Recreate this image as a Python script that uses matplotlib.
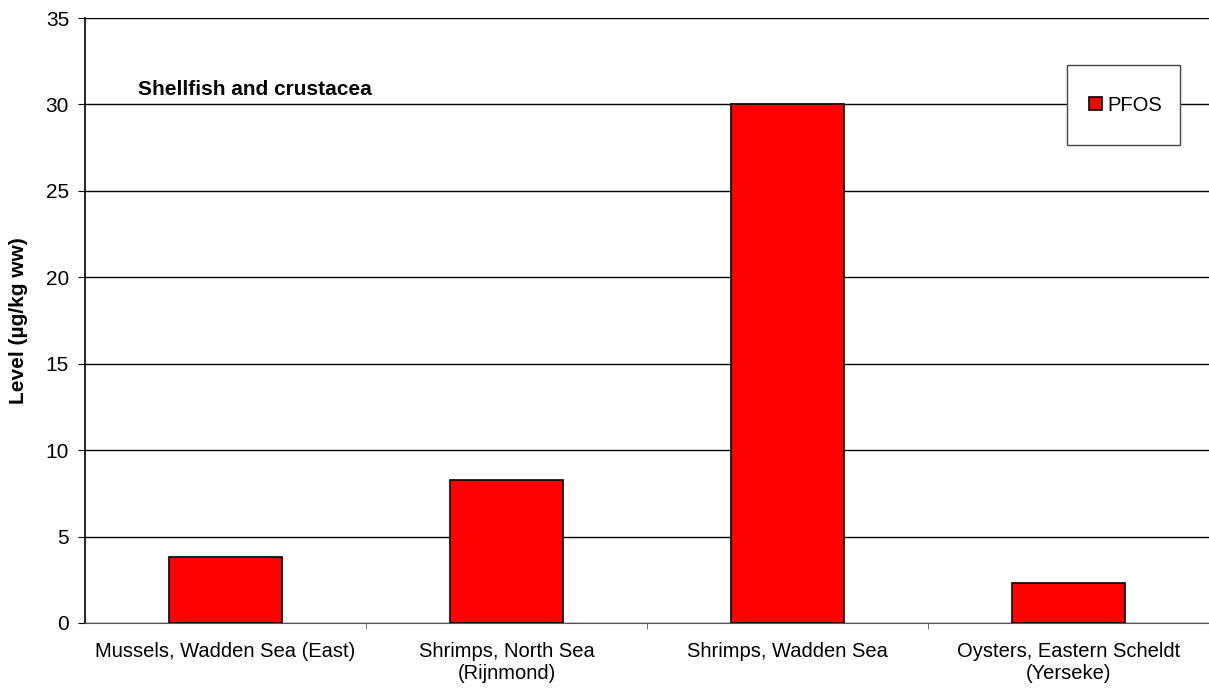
import numpy as np
import matplotlib.pyplot as plt
from matplotlib.patches import Rectangle

plt.rcParams['font.family'] = ['Liberation Sans', 'DejaVu Sans']

categories = ['Mussels, Wadden Sea (East)', 'Shrimps, North Sea\n(Rijnmond)',
              'Shrimps, Wadden Sea', 'Oysters, Eastern Scheldt\n(Yerseke)']
pfos = [3.8, 8.3, 30.0, 2.3]
yticks = [0, 5, 10, 15, 20, 25, 30, 35]

fig = plt.figure(figsize=(12.09, 6.9), dpi=100)
ax = fig.add_axes([85 / 1209, 67 / 690, 1124 / 1209, 605 / 690])

x = np.arange(len(categories))
ax.bar(x, pfos, width=0.4, color='#ff0000', edgecolor='black', linewidth=1.2,
       label='PFOS', zorder=3)

ax.set_xlim(-0.5, len(categories) - 0.5)
ax.set_ylim(0, 35)
ax.set_yticks(yticks)
ax.yaxis.grid(True, color='black', linewidth=1.0, zorder=0)
ax.set_axisbelow(True)

# category separators as minor ticks, no major tick marks on x
ax.set_xticks(x)
ax.set_xticklabels(categories, fontsize=14.5, linespacing=1.2)
ax.set_xticks(np.arange(0.5, len(categories) - 0.5, 1), minor=True)
ax.tick_params(axis='x', which='major', length=0, pad=14)
ax.tick_params(axis='x', which='minor', length=4.5, direction='out', color='#555555')
ax.tick_params(axis='y', length=5, labelsize=15, pad=6.5)

for side in ['top', 'right']:
    ax.spines[side].set_visible(False)
ax.spines['left'].set_linewidth(1.2)
ax.spines['bottom'].set_color('#555555')

ax.set_ylabel('Level (µg/kg ww)', fontsize=15, fontweight='bold', labelpad=13)

ax.text(0.047, 0.881, 'Shellfish and crustacea', transform=ax.transAxes,
        fontsize=15, fontweight='bold', va='center', ha='left')

# legend box
box = Rectangle((0.874, 0.79), 0.1005, 0.132, transform=ax.transAxes,
                facecolor='white', edgecolor='#444444', linewidth=1.0, zorder=5)
ax.add_patch(box)
leg = ax.legend(loc='center', bbox_to_anchor=(0.926, 0.856), frameon=False,
                fontsize=14.5, handlelength=0.65, handleheight=0.65,
                handletextpad=0.25)
leg.set_zorder(6)

fig.savefig('out.png', dpi=100)
